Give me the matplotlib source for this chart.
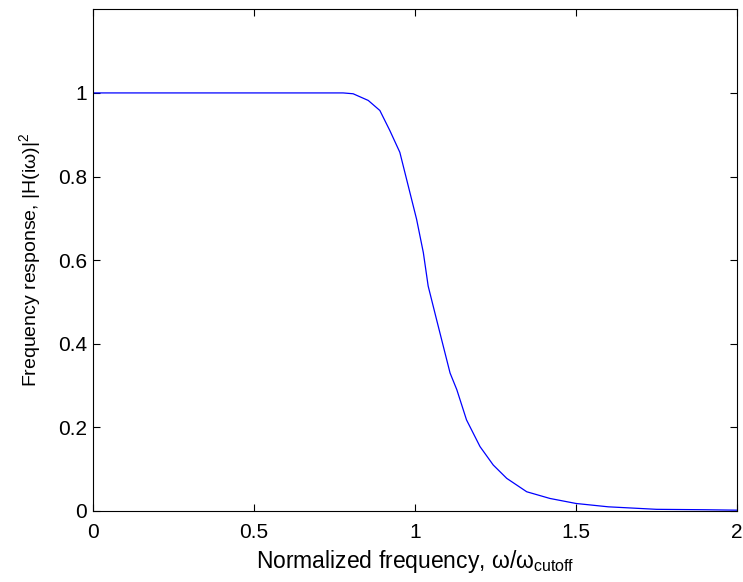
import numpy as np
import matplotlib.pyplot as plt

plt.rcParams['font.family'] = ['Liberation Sans', 'DejaVu Sans']
# symboles grecs droits, même police que le texte
plt.rcParams['mathtext.fontset'] = 'custom'
plt.rcParams['mathtext.rm'] = 'Liberation Sans'
plt.rcParams['mathtext.it'] = 'Liberation Sans'
plt.rcParams['mathtext.bf'] = 'Liberation Sans:bold'

# réponse en fréquence relevée (|H|^2 en fonction de w/wc)
freq = [0.0, 0.25, 0.5, 0.7, 0.777, 0.808, 0.855, 0.891, 0.922, 0.953, 0.979,
        1.005, 1.026, 1.041, 1.067, 1.088, 1.109, 1.130, 1.160, 1.202,
        1.243, 1.285, 1.347, 1.419, 1.5, 1.6, 1.75, 1.9, 2.0]
reponse = [1.0, 1.0, 1.0, 1.0, 1.0, 0.998, 0.982, 0.958, 0.910, 0.858, 0.778,
           0.698, 0.618, 0.538, 0.458, 0.394, 0.330, 0.290, 0.218, 0.154,
           0.110, 0.078, 0.046, 0.030, 0.018, 0.010, 0.004, 0.003, 0.002]

fig = plt.figure(figsize=(7.43, 5.82), dpi=100)
ax = fig.add_axes([0.125, 0.122, 0.867, 0.862])
ax.plot(freq, reponse, color='#0000ff', linewidth=0.9)

ax.set_xlim(0, 2)
ax.set_ylim(0, 1.2)
ax.set_xticks([0, 0.5, 1, 1.5, 2])
ax.set_xticklabels(['0', '0.5', '1', '1.5', '2'])
ax.set_yticks([0, 0.2, 0.4, 0.6, 0.8, 1])
ax.set_yticklabels(['0', '0.2', '0.4', '0.6', '0.8', '1'])
ax.tick_params(direction='in', top=True, right=True, length=5,
               labelsize=15, width=0.8)
ax.tick_params(axis='x', pad=9)
ax.tick_params(axis='y', pad=4)
for s in ax.spines.values():
    s.set_linewidth(0.8)

ax.set_xlabel(r'Normalized frequency, $\omega/\omega_{\mathrm{cutoff}}$', fontsize=16.5, labelpad=4)
ax.set_ylabel(r'Frequency response, $|H(i\omega)|^2$', fontsize=14, labelpad=11)

fig.savefig('out.png', dpi=100)
